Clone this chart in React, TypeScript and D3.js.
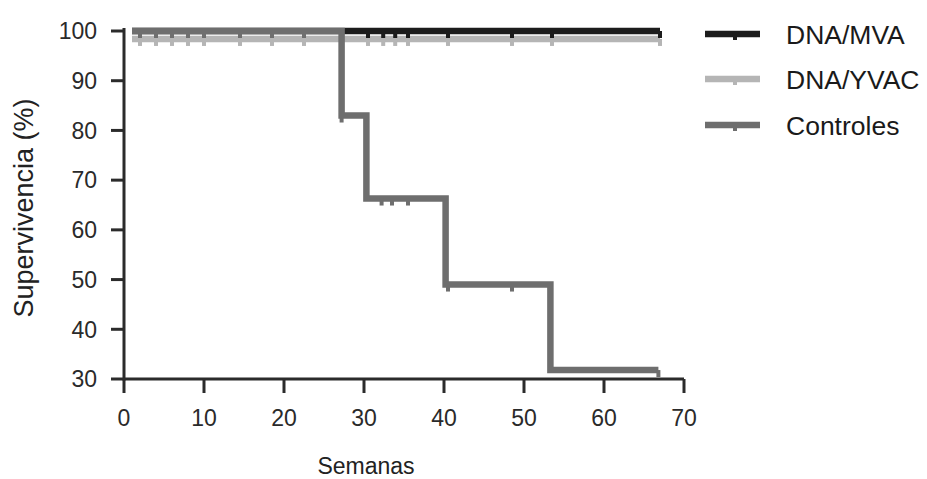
import React from "react";
import * as d3 from "d3";

const xTicks = [0, 10, 20, 30, 40, 50, 60, 70];
const yTicks = [30, 40, 50, 60, 70, 80, 90, 100];

const seriesNames = ["DNA/MVA", "DNA/YVAC", "Controles"];

// step curves: [week, survival]
const mvaSteps: [number, number][] = [[1, 100], [67, 100]];
const yvacSteps: [number, number][] = [[1, 98.4], [67, 98.4]];
const ctrlSteps: [number, number][] = [
  [1, 100], [27.2, 83], [30.3, 66.3], [40.2, 49], [53.3, 31.8], [66.8, 31.8],
];

// censored marks (weeks)
const mvaCensor = [2, 4, 6, 8, 10, 14.5, 18.5, 22.5, 30.5, 32.4, 33.9, 35.5, 40.5, 48.5, 53.5, 67];
const yvacCensor = [2, 4, 6, 8, 10, 14.5, 18.5, 22.5, 30.5, 32.4, 33.9, 35.5, 40.5, 48.5, 53.5, 67];
const ctrlCensor = [2, 4, 6, 8, 10, 14.5, 18.5, 22.5, 27.2, 32.2, 33.5, 35.5, 40.5, 48.5, 66.8];

const colors = ["#1c1c1c", "#b5b5b5", "#6e6e6e"];

const W = 927, H = 479;
const x = d3.scaleLinear().domain([0, 70]).range([124, 684]);
const y = d3.scaleLinear().domain([30, 100]).range([379, 31]);

function valueAt(steps: [number, number][], t: number) {
  let v = steps[0][1];
  for (const [wx, wv] of steps) if (wx <= t) v = wv;
  return v;
}

export default function App() {
  const line = d3.line<[number, number]>().x(d => x(d[0])).y(d => y(d[1])).curve(d3.curveStepAfter);
  const series = [
    { steps: yvacSteps, censor: yvacCensor, color: colors[1] },
    { steps: mvaSteps, censor: mvaCensor, color: colors[0] },
    { steps: ctrlSteps, censor: ctrlCensor, color: colors[2] },
  ];
  const axisColor = "#2b2b2b";
  const font = "Liberation Sans, Arial, sans-serif";
  return (
    <svg width={W} height={H} style={{ position: "absolute", left: 0, top: 0, background: "#fff" }}>
      <rect width={W} height={H} fill="#fff" />
      {/* axes */}
      <line x1={x(0)} x2={x(0)} y1={y(100) - 3} y2={y(30) + 1.5} stroke={axisColor} strokeWidth={3} />
      <line x1={x(0)} x2={x(70)} y1={y(30)} y2={y(30)} stroke={axisColor} strokeWidth={3} />
      {yTicks.map(t => (
        <g key={"y" + t}>
          <line x1={x(0) - 13} x2={x(0)} y1={y(t)} y2={y(t)} stroke={axisColor} strokeWidth={3} />
          <text x={97} y={y(t)} dy="0.36em" textAnchor="end" fontFamily={font} fontSize={23} fill="#2a2a2a">{t}</text>
        </g>
      ))}
      {xTicks.map(t => (
        <g key={"x" + t}>
          <line x1={x(t)} x2={x(t)} y1={y(30)} y2={y(30) + 14} stroke={axisColor} strokeWidth={3} />
          <text x={x(t)} y={418} dy="0.36em" textAnchor="middle" fontFamily={font} fontSize={23} fill="#2a2a2a">{t}</text>
        </g>
      ))}
      <text x={366} y={466} dy="0.36em" textAnchor="middle" fontFamily={font} fontSize={23} fill="#222">Semanas</text>
      <text transform={`translate(23,208) rotate(-90)`} dy="0.36em" textAnchor="middle" fontFamily={font} fontSize={27} fill="#222">Supervivencia (%)</text>

      {/* curves */}
      {series.map((s, i) => (
        <g key={"s" + i}>
          <path d={line(s.steps) || ""} fill="none" stroke={s.color} strokeWidth={6.5} />
          {s.censor.map((c, j) => (
            <line key={j} x1={x(c)} x2={x(c)} y1={y(valueAt(s.steps, c))} y2={y(valueAt(s.steps, c)) + 7} stroke={s.color} strokeWidth={4} />
          ))}
        </g>
      ))}

      {/* legend */}
      {seriesNames.map((n, i) => {
        const ly = [34, 79, 125][i];
        return (
          <g key={n}>
            <line x1={705} x2={760} y1={ly} y2={ly} stroke={colors[i]} strokeWidth={6.5} />
            <line x1={735} x2={735} y1={ly} y2={ly + 6} stroke={colors[i]} strokeWidth={4} />
            <text x={786} y={ly} dy="0.36em" fontFamily={font} fontSize={26.5} fill="#1a1a1a">{n}</text>
          </g>
        );
      })}
    </svg>
  );
}
